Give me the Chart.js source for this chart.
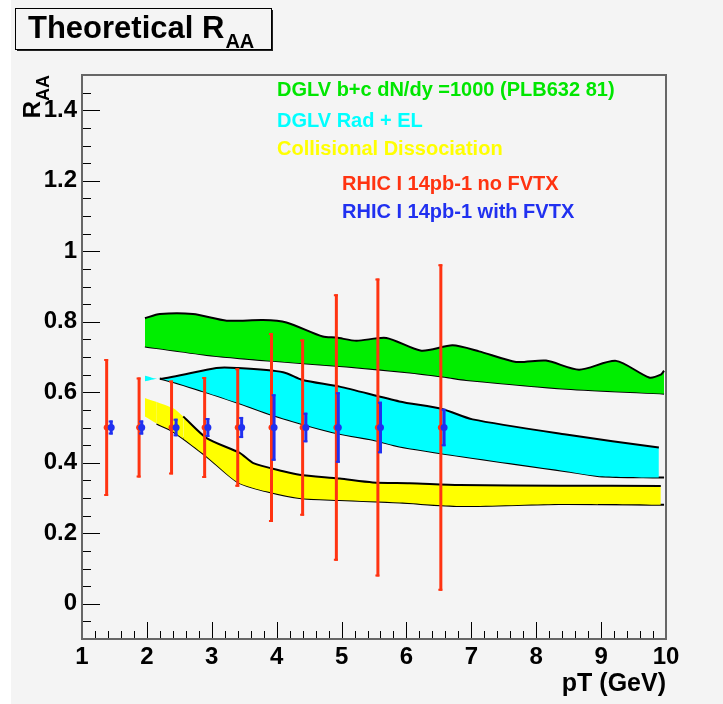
<!DOCTYPE html>
<html><head><meta charset="utf-8">
<script src="https://cdn.jsdelivr.net/npm/chart.js@4.4.0/dist/chart.umd.min.js"></script>
<style>html,body{margin:0;padding:0;background:#fff;}canvas{display:block;}</style>
</head><body>
<canvas id="c" width="723" height="704"></canvas>
<script>
// ---- tick labels ----
const xTickLabels = [1,2,3,4,5,6,7,8,9,10];
const yTickLabels = [0,0.2,0.4,0.6,0.8,1,1.2,1.4];

// ---- projected points (RAA = 0.5) ----
const redX   = [1.38,1.88,2.38,2.89,3.40,3.92,4.40,4.92,5.56,6.53];
const redY   = [0.5,0.5,0.5,0.5,0.5,0.5,0.5,0.5,0.5,0.5];
const redErr = [0.194,0.142,0.133,0.143,0.168,0.268,0.250,0.378,0.423,0.463];
const blueX   = [1.45,1.92,2.45,2.94,3.46,3.96,4.45,4.95,5.60,6.58];
const blueY   = [0.5,0.5,0.5,0.5,0.5,0.5,0.5,0.5,0.5,0.5];
const blueErr = [0.020,0.020,0.025,0.027,0.030,0.094,0.042,0.100,0.073,0.053];

// ---- theory bands ----
const greenUpperX = [1.97,2.20,2.71,3.23,3.79,4.15,4.71,4.92,5.23,5.69,6.23,6.71,7.12,7.69,8.15,8.66,9.23,9.74,9.92,9.97];
const greenUpperY = [0.810,0.822,0.822,0.803,0.805,0.798,0.758,0.755,0.746,0.754,0.718,0.733,0.716,0.686,0.690,0.664,0.689,0.642,0.650,0.661];
const greenLowerX = [1.97,2.92,3.94,5.07,6.05,6.61,6.92,8.46,9.97];
const greenLowerY = [0.730,0.706,0.689,0.673,0.656,0.643,0.635,0.610,0.596];

const cyanUpperX = [1.97,2.20,3.07,3.38,4.10,4.40,4.97,5.89,6.56,7.02,8.46,9.89];
const cyanUpperY = [0.647,0.638,0.669,0.669,0.657,0.635,0.616,0.574,0.552,0.523,0.480,0.443];
const cyanLowerX = [1.97,2.20,2.89,3.40,3.92,4.43,4.97,5.48,5.89,6.92,8.46,8.97,9.89,9.97];
const cyanLowerY = [0.631,0.638,0.601,0.570,0.536,0.508,0.482,0.465,0.446,0.416,0.376,0.362,0.358,0.358];

const yellowUpperX = [1.97,2.40,2.56,2.92,3.43,3.64,4.10,4.35,4.97,5.48,6.05,6.82,8.37,9.92];
const yellowUpperY = [0.584,0.555,0.531,0.470,0.428,0.399,0.376,0.366,0.355,0.344,0.342,0.337,0.335,0.334];
const yellowLowerX = [1.97,2.15,2.40,2.92,3.40,3.84,4.35,4.97,5.89,6.82,8.35,9.92,9.97];
const yellowLowerY = [0.531,0.511,0.489,0.418,0.345,0.319,0.300,0.294,0.287,0.277,0.283,0.281,0.281];

// ---- text ----
const titleMain = 'Theoretical R';
const titleSub = 'AA';
const xTitle = 'pT (GeV)';
const yTitleMain = 'R';
const yTitleSub = 'AA';
const legendLines = [
  {text:'DGLV b+c dN/dy =1000 (PLB632 81)', color:'#00e600'},
  {text:'DGLV Rad + EL', color:'#00ffff'},
  {text:'Collisional Dissociation', color:'#ffff00'},
  {text:'RHIC I 14pb-1 no FVTX', color:'#ff3311'},
  {text:'RHIC I 14pb-1 with FVTX', color:'#2030f0'}
];

const FONT = '"Liberation Sans", Arial, Helvetica, sans-serif';
const pts = (xs, ys) => xs.map((x,i)=>({x:x, y:ys[i]}));

function bandUpper(xs, ys, fillColor, hideFirst){
  return {data:pts(xs,ys), showLine:true, pointRadius:0, borderColor:'#000', borderWidth:2,
    backgroundColor:fillColor, fill:'+1', tension:0.25,
    segment:{borderColor: c => c.p0DataIndex < hideFirst ? 'rgba(0,0,0,0)' : undefined}};
}
function bandLower(xs, ys, hideFirst){
  return {data:pts(xs,ys), showLine:true, pointRadius:0, borderColor:'#000', borderWidth:2,
    fill:false, tension:0.25,
    segment:{borderColor: c => c.p0DataIndex < hideFirst ? 'rgba(0,0,0,0)' : undefined}};
}

const errorBars = {
  id:'errorBars',
  beforeDatasetDraw(chart, args){
    const ds = chart.data.datasets[args.index];
    if(!ds.errors) return;
    const ctx = chart.ctx, x = chart.scales.x, y = chart.scales.y;
    ctx.save();
    ctx.strokeStyle = ds.errColor; ctx.lineWidth = 3; ctx.lineCap='butt';
    ds.data.forEach((p,i)=>{
      const px = x.getPixelForValue(p.x);
      const t = y.getPixelForValue(p.y + ds.errors[i]);
      const b = y.getPixelForValue(p.y - ds.errors[i]);
      ctx.beginPath(); ctx.moveTo(px,t); ctx.lineTo(px,b); ctx.stroke();
      ctx.lineWidth = 2;
      ctx.beginPath(); ctx.moveTo(px-2.5,t+1); ctx.lineTo(px+1.5,t+1);
      ctx.moveTo(px-2.5,b-1); ctx.lineTo(px+1.5,b-1); ctx.stroke();
      ctx.lineWidth = 3;
    });
    ctx.restore();
  }
};

const background = {
  id:'background',
  beforeDraw(chart){
    const ctx = chart.ctx;
    ctx.save();
    ctx.fillStyle='#ffffff'; ctx.fillRect(0,0,chart.width,chart.height);
    ctx.fillStyle='#f4f4f4'; ctx.fillRect(11,0,chart.width-11,chart.height);
    ctx.restore();
  }
};

const decorations = {
  id:'decorations',
  afterDraw(chart){
    const ctx = chart.ctx, a = chart.chartArea, x = chart.scales.x, y = chart.scales.y;
    ctx.save();
    // ticks (inside the frame)
    ctx.strokeStyle = '#000'; ctx.lineWidth = 1;
    for(let k=0;k<=31;k++){
      const v = -0.1 + k*0.05;
      const major = yTickLabels.some(t=>Math.abs(t-v)<1e-6);
      const py = Math.round(y.getPixelForValue(v)) + 0.5;
      ctx.beginPath(); ctx.moveTo(a.left, py); ctx.lineTo(a.left + (major?18:9), py); ctx.stroke();
    }
    for(let k=0;k<=45;k++){
      const v = 1 + k*0.2;
      const major = xTickLabels.some(t=>Math.abs(t-v)<1e-6);
      const px = Math.round(x.getPixelForValue(v)) + 0.5;
      ctx.beginPath(); ctx.moveTo(px, a.bottom); ctx.lineTo(px, a.bottom - (major?17:8)); ctx.stroke();
    }
    // frame
    ctx.strokeStyle = '#666'; ctx.lineWidth = 2;
    ctx.strokeRect(a.left, a.top, a.right-a.left, a.bottom-a.top);

    // y axis title with subscript (rotated)
    ctx.fillStyle = '#000';
    ctx.save();
    ctx.translate(40, a.top);
    ctx.rotate(-Math.PI/2);
    ctx.textBaseline = 'alphabetic';
    ctx.font = 'bold 24px ' + FONT;
    const wR = ctx.measureText(yTitleMain).width;
    ctx.font = 'bold 18px ' + FONT;
    const wA = ctx.measureText(yTitleSub).width;
    ctx.textAlign = 'left';
    ctx.font = 'bold 24px ' + FONT;
    ctx.fillText(yTitleMain, -(wR + wA), 0);
    ctx.font = 'bold 18px ' + FONT;
    ctx.fillText(yTitleSub, -wA, 9);
    ctx.restore();

    // title box
    ctx.fillStyle = '#f4f4f4';
    ctx.fillRect(15, 8, 257, 42);
    ctx.fillStyle = '#222';
    ctx.fillRect(17, 49, 256, 2);
    ctx.fillRect(271, 10, 2, 41);
    ctx.strokeStyle = '#000'; ctx.lineWidth = 1;
    ctx.strokeRect(15.5, 8.5, 256, 41);
    ctx.fillStyle = '#000';
    ctx.textAlign = 'left'; ctx.textBaseline = 'alphabetic';
    ctx.font = 'bold 31px ' + FONT;
    ctx.fillText(titleMain, 28, 38);
    const wT = ctx.measureText(titleMain).width;
    ctx.font = 'bold 20px ' + FONT;
    ctx.fillText(titleSub, 28 + wT + 1, 48);

    // legend text
    ctx.font = 'bold 20px ' + FONT;
    const lx = [277,277,277,342,342];
    const ly = [96,127,155,190,218];
    legendLines.forEach((l,i)=>{ ctx.fillStyle = l.color; ctx.fillText(l.text, lx[i], ly[i]); });
    ctx.restore();
  }
};

new Chart(document.getElementById('c'), {
  type:'scatter',
  data:{datasets:[
    {data:pts(blueX,blueY), errors:blueErr, errColor:'#2030f0', backgroundColor:'#2030f0', borderColor:'#2030f0', pointRadius:3.5, pointBorderWidth:0, showLine:false},
    {data:pts(redX,redY), errors:redErr, errColor:'#ff3311', backgroundColor:'#ff3311', borderColor:'#ff3311', pointRadius:3, pointBorderWidth:0, showLine:false},
    bandUpper(greenUpperX, greenUpperY, '#00ee00', 0),
    bandLower(greenLowerX, greenLowerY, 0),
    bandUpper(cyanUpperX, cyanUpperY, '#00ffff', 1),
    bandLower(cyanLowerX, cyanLowerY, 1),
    bandUpper(yellowUpperX, yellowUpperY, '#ffff00', 2),
    bandLower(yellowLowerX, yellowLowerY, 1)
  ]},
  options:{
    responsive:false, animation:false, devicePixelRatio:1,
    layout:{padding:{left:0, top:75, right:57, bottom:0}},
    plugins:{legend:{display:false}, tooltip:{enabled:false}, title:{display:false}},
    scales:{
      x:{type:'linear', min:1, max:10,
        afterFit(s){ s.height = 65; },
        afterBuildTicks(s){ s.ticks = xTickLabels.map(v=>({value:v})); },
        grid:{display:false, drawTicks:false}, border:{display:false},
        ticks:{padding:4, color:'#000', maxRotation:0, autoSkip:false, font:{family:FONT, size:24, weight:'bold'}, callback:v=>String(v)},
        title:{display:true, text:xTitle, align:'end', color:'#000', font:{family:FONT, size:25, weight:'bold'}, padding:{top:0, bottom:5}}
      },
      y:{type:'linear', min:-0.1, max:1.5,
        afterFit(s){ s.width = 82; },
        afterBuildTicks(s){ s.ticks = yTickLabels.map(v=>({value:v})); },
        grid:{display:false, drawTicks:false}, border:{display:false},
        ticks:{padding:5, color:'#000', autoSkip:false, font:{family:FONT, size:24, weight:'bold'}, callback:v=>String(v)}
      }
    }
  },
  plugins:[background, errorBars, decorations]
});
</script>
</body></html>
